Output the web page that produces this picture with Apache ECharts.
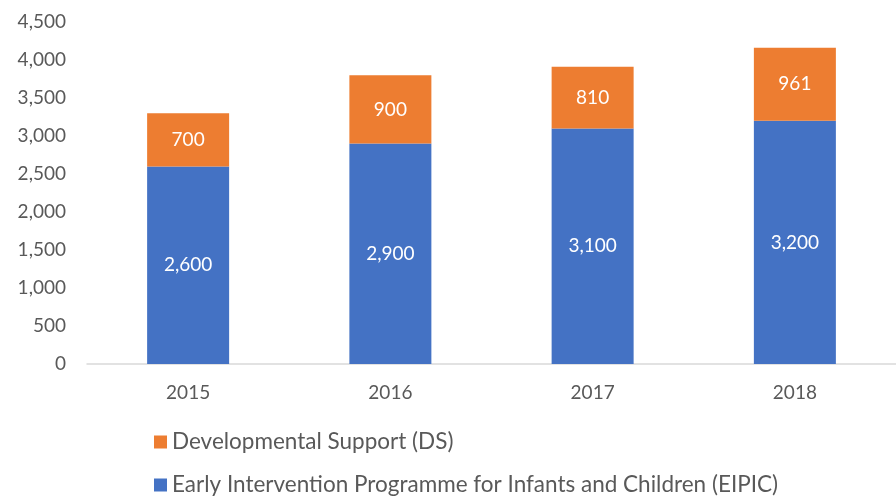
<!DOCTYPE html>
<html lang="en">
<head>
    <meta charset="UTF-8">
    <title>EIPIC / DS</title>
    <script src="https://cdn.jsdelivr.net/npm/echarts@6/dist/echarts.min.js"></script>
    <style>
        html, body { margin: 0; padding: 0; background: #fff; }
    </style>
</head>
<body>
<div id="main" style="width: 896px; height: 496px;"></div>
<script>
    // data
    var years = ['2015', '2016', '2017', '2018'];
    var eipic = [2600, 2900, 3100, 3200];
    var ds = [700, 900, 810, 961];
    var yTicks = [0, 500, 1000, 1500, 2000, 2500, 3000, 3500, 4000, 4500];

    var dsName = 'Developmental Support (DS)';
    var eipicName = 'Early Intervention Programme for Infants and Children (EIPIC)';

    var font = 'Lato, "Open Sans", sans-serif';
    var fmt = function (v) { return Number(v).toLocaleString('en-US'); };

    var myChart = echarts.init(document.getElementById('main'));

    // one legend per row, so the two items stack like the original
    function legendRow(name, top) {
        return {
            data: [name],
            left: 154,
            top: top,
            padding: 0,
            itemWidth: 13,
            itemHeight: 13,
            icon: 'rect',
            selectedMode: false,
            textStyle: { color: '#595959', fontSize: 22.5, lineHeight: 26, fontFamily: font }
        };
    }

    var option = {
        animation: false,
        grid: {
            left: 87,
            right: -5,
            top: 22,
            bottom: 132
        },
        legend: [legendRow(dsName, 429), legendRow(eipicName, 472)],
        xAxis: {
            type: 'category',
            data: years,
            axisLine: { lineStyle: { color: '#d9d9d9', width: 1.5 } },
            axisTick: { show: false },
            axisLabel: { color: '#595959', fontSize: 19, fontFamily: font, margin: 19 }
        },
        yAxis: {
            type: 'value',
            min: yTicks[0],
            max: yTicks[yTicks.length - 1],
            interval: 500,
            splitLine: { show: false },
            axisLine: { show: false },
            axisTick: { show: false },
            axisLabel: { color: '#595959', fontSize: 19, fontFamily: font, margin: 21, formatter: fmt }
        },
        series: [
            {
                name: eipicName,
                type: 'bar',
                stack: 'total',
                data: eipic,
                barWidth: 82,
                itemStyle: { color: '#4472c4' },
                label: {
                    show: true, position: 'inside', color: '#fff',
                    fontSize: 19, fontFamily: font,
                    formatter: function (p) { return fmt(p.value); }
                }
            },
            {
                name: dsName,
                type: 'bar',
                stack: 'total',
                data: ds,
                barWidth: 82,
                itemStyle: { color: '#ed7d31' },
                label: {
                    show: true, position: 'inside', color: '#fff',
                    fontSize: 19, fontFamily: font,
                    formatter: function (p) { return fmt(p.value); }
                }
            }
        ]
    };

    myChart.setOption(option);
</script>
</body>
</html>
